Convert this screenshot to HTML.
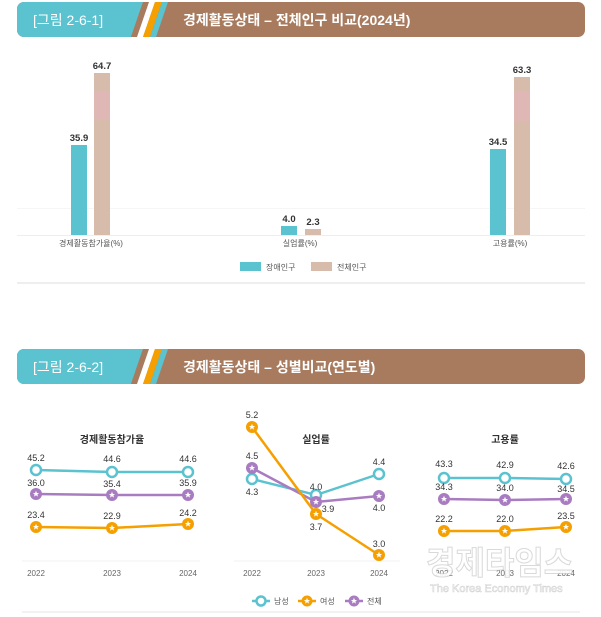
<!DOCTYPE html>
<html><head><meta charset="utf-8"><style>
body{margin:0;background:#fff;width:601px;height:617px;overflow:hidden}
svg{display:block}
text{font-family:"Liberation Sans","Noto Sans CJK KR",sans-serif}
</style></head><body>
<svg width="601" height="617" viewBox="0 0 601 617" xmlns="http://www.w3.org/2000/svg">
<defs>
<clipPath id="h1"><rect x="17" y="2" width="568" height="35" rx="7"/></clipPath>
<clipPath id="h2"><rect x="17" y="349" width="568" height="35" rx="7"/></clipPath>
<g id="hdr">
<rect x="0" y="0" width="601" height="35" fill="#a87b5f"/>
<polygon points="0,0 143,0 131,35 0,35" fill="#5bc2cf"/>
<polygon points="143,0 149,0 137,35 131,35" fill="#a87b5f"/>
<polygon points="149,0 155,0 143,35 137,35" fill="#fff"/>
<polygon points="155,0 162,0 150,35 143,35" fill="#f5a000"/>
<polygon points="162,0 168,0 156,35 150,35" fill="#5bc2cf"/>
</g>
<g id="sf"><path d="M0,-3.2 L0.9,-1 3.1,-1 1.4,0.4 2,2.6 0,1.3 -2,2.6 -1.4,0.4 -3.1,-1 -0.9,-1Z" fill="#fff"/></g>
</defs>
<g clip-path="url(#h1)"><use href="#hdr" y="2"/></g>
<text x="33" y="25" fill="#fff" font-size="14">[그림 2-6-1]</text>
<text x="183" y="25" fill="#fff" font-size="14" font-weight="bold">경제활동상태 – 전체인구 비교(2024년)</text>

<line x1="17" y1="235.5" x2="585" y2="235.5" stroke="#eee"/>
<line x1="17" y1="208.5" x2="585" y2="208.5" stroke="#f6f6f6"/>
<rect x="71" y="145" width="16" height="90" fill="#5bc2cf"/>
<rect x="94" y="73" width="16" height="162" fill="#d7bcac"/>
<rect x="94" y="91" width="16" height="29" fill="#dfb8b6"/>
<rect x="281" y="226" width="16" height="9" fill="#5bc2cf"/>
<rect x="305" y="229" width="16" height="6" fill="#d7bcac"/>
<rect x="490" y="149" width="16" height="86" fill="#5bc2cf"/>
<rect x="514" y="77" width="16" height="158" fill="#d7bcac"/>
<rect x="514" y="91" width="16" height="30" fill="#dfb8b6"/>
<g font-size="9.5" font-weight="bold" fill="#333" text-anchor="middle">
<text x="79" y="141">35.9</text><text x="102" y="69">64.7</text>
<text x="289" y="222">4.0</text><text x="313" y="225">2.3</text>
<text x="498" y="145">34.5</text><text x="522" y="73">63.3</text>
</g>
<g font-size="8" fill="#555" text-anchor="middle">
<text x="91" y="246">경제활동참가율(%)</text><text x="300" y="246">실업률(%)</text><text x="510" y="246">고용률(%)</text>
</g>
<rect x="240" y="262" width="21" height="9" fill="#5bc2cf"/><text x="266" y="270" font-size="8" fill="#555">장애인구</text>
<rect x="311" y="262" width="21" height="9" fill="#d7bcac"/><text x="337" y="270" font-size="8" fill="#555">전체인구</text>
<line x1="17" y1="283" x2="585" y2="283" stroke="#ddd"/>

<g clip-path="url(#h2)"><use href="#hdr" y="349"/></g>
<text x="33" y="372" fill="#fff" font-size="14">[그림 2-6-2]</text>
<text x="183" y="372" fill="#fff" font-size="14" font-weight="bold">경제활동상태 – 성별비교(연도별)</text>

<g font-size="10" font-weight="bold" fill="#333" text-anchor="middle">
<text x="112" y="443">경제활동참가율</text><text x="316" y="443">실업률</text><text x="505" y="443">고용률</text>
</g>
<g stroke="#f0f0f0"><line x1="22" y1="561" x2="200" y2="561"/><line x1="234" y1="561" x2="400" y2="561"/></g>
<g fill="none" stroke-width="2.5">
<polyline points="36,470 112,472 188,472" stroke="#5bc2cf"/>
<polyline points="36,494 112,495 188,495" stroke="#a97cc1"/>
<polyline points="36,527 112,528 188,524" stroke="#f5a000"/>
<polyline points="252,479 316,495 379,474" stroke="#5bc2cf"/>
<polyline points="252,468 316,502 379,496" stroke="#a97cc1"/>
<polyline points="252,427 316,514 379,555" stroke="#f5a000"/>
<polyline points="444,478 505,478 566,479" stroke="#5bc2cf"/>
<polyline points="444,499 505,500 566,499" stroke="#a97cc1"/>
<polyline points="444,531 505,531 566,527" stroke="#f5a000"/>
</g>
<g fill="#fff" stroke="#5bc2cf" stroke-width="2.5">
<circle cx="36" cy="470" r="5"/><circle cx="112" cy="472" r="5"/><circle cx="188" cy="472" r="5"/>
<circle cx="252" cy="479" r="5"/><circle cx="316" cy="495" r="5"/><circle cx="379" cy="474" r="5"/>
<circle cx="444" cy="478" r="5"/><circle cx="505" cy="478" r="5"/><circle cx="566" cy="479" r="5"/>
</g>
<g fill="#a97cc1">
<circle cx="36" cy="494" r="6"/><circle cx="112" cy="495" r="6"/><circle cx="188" cy="495" r="6"/>
<circle cx="252" cy="468" r="6"/><circle cx="316" cy="502" r="6"/><circle cx="379" cy="496" r="6"/>
<circle cx="444" cy="499" r="6"/><circle cx="505" cy="500" r="6"/><circle cx="566" cy="499" r="6"/>
</g>
<g fill="#f5a000">
<circle cx="36" cy="527" r="6"/><circle cx="112" cy="528" r="6"/><circle cx="188" cy="524" r="6"/>
<circle cx="252" cy="427" r="6"/><circle cx="316" cy="514" r="6"/><circle cx="379" cy="555" r="6"/>
<circle cx="444" cy="531" r="6"/><circle cx="505" cy="531" r="6"/><circle cx="566" cy="527" r="6"/>
</g>
<g>
<use href="#sf" x="36" y="494"/><use href="#sf" x="112" y="495"/><use href="#sf" x="188" y="495"/>
<use href="#sf" x="252" y="468"/><use href="#sf" x="316" y="502"/><use href="#sf" x="379" y="496"/>
<use href="#sf" x="444" y="499"/><use href="#sf" x="505" y="500"/><use href="#sf" x="566" y="499"/>
<use href="#sf" x="36" y="527"/><use href="#sf" x="112" y="528"/><use href="#sf" x="188" y="524"/>
<use href="#sf" x="252" y="427"/><use href="#sf" x="316" y="514"/><use href="#sf" x="379" y="555"/>
<use href="#sf" x="444" y="531"/><use href="#sf" x="505" y="531"/><use href="#sf" x="566" y="527"/>
</g>
<g font-size="9" fill="#333" text-anchor="middle">
<text x="36" y="461">45.2</text><text x="112" y="462">44.6</text><text x="188" y="462">44.6</text>
<text x="36" y="486">36.0</text><text x="112" y="487">35.4</text><text x="188" y="486">35.9</text>
<text x="36" y="518">23.4</text><text x="112" y="519">22.9</text><text x="188" y="516">24.2</text>
<text x="252" y="418">5.2</text><text x="252" y="459">4.5</text><text x="252" y="495">4.3</text>
<text x="316" y="490">4.0</text><text x="328" y="512">3.9</text><text x="316" y="530">3.7</text>
<text x="379" y="465">4.4</text><text x="379" y="511">4.0</text><text x="379" y="547">3.0</text>
<text x="444" y="467">43.3</text><text x="505" y="468">42.9</text><text x="566" y="469">42.6</text>
<text x="444" y="490">34.3</text><text x="505" y="491">34.0</text><text x="566" y="492">34.5</text>
<text x="444" y="522">22.2</text><text x="505" y="522">22.0</text><text x="566" y="519">23.5</text>
</g>
<g font-size="8" fill="#666" text-anchor="middle">
<text x="36" y="576">2022</text><text x="112" y="576">2023</text><text x="188" y="576">2024</text>
<text x="252" y="576">2022</text><text x="316" y="576">2023</text><text x="379" y="576">2024</text>
<text x="444" y="576">2022</text><text x="505" y="576">2023</text><text x="566" y="576">2024</text>
</g>
<text x="426" y="574" font-size="32" font-weight="bold" fill="#fff" fill-opacity="0.9" stroke="#aaa" stroke-opacity="0.45" stroke-width="1">경제타임스</text>
<text x="430" y="592" font-size="11" fill="#fff" stroke="#aaa" stroke-opacity="0.5" stroke-width="0.6">The Korea Economy Times</text>
<g fill="none" stroke-width="2.5">
<line x1="252" y1="601" x2="270" y2="601" stroke="#5bc2cf"/><circle cx="261" cy="601" r="4.5" fill="#fff" stroke="#5bc2cf"/>
<line x1="298" y1="601" x2="316" y2="601" stroke="#f5a000"/>
<line x1="345" y1="601" x2="363" y2="601" stroke="#a97cc1"/>
</g>
<circle cx="307" cy="601" r="5.5" fill="#f5a000"/><use href="#sf" x="307" y="601"/>
<circle cx="354" cy="601" r="5.5" fill="#a97cc1"/><use href="#sf" x="354" y="601"/>
<g font-size="8" fill="#555"><text x="274" y="604">남성</text><text x="320" y="604">여성</text><text x="367" y="604">전체</text></g>
<line x1="22" y1="612" x2="580" y2="612" stroke="#e6e6e6"/>
</svg>
</body></html>
